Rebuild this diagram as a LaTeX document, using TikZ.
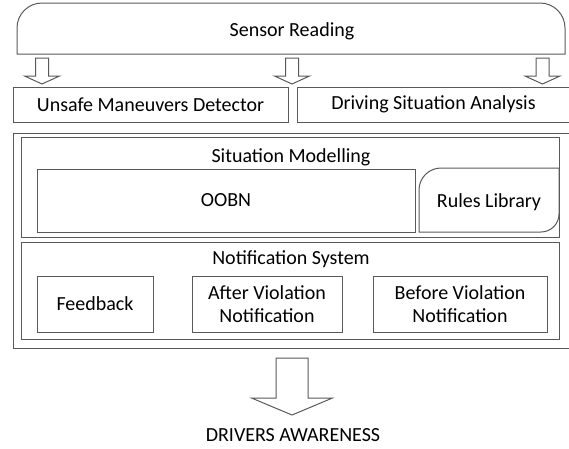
\documentclass[tikz,border=0pt]{standalone}
\usepackage{fontspec}
\setmainfont{Carlito}
\usetikzlibrary{positioning}

\tikzset{
  line/.style={draw=black!65, line width=1pt},
  box/.style={line, rectangle, inner sep=0pt, align=center},
  label/.style={inner sep=0pt, align=center},
}
\newcommand{\hollowarrow}[5]{%
  \draw[line] (#1) ++(-#2,0) -- ++(0,#3) -- ++(#2-#4,0) -- ++(#4,#5)
    -- ++(#4,-#5) -- ++(#2-#4,0) -- ++(0,-#3) -- cycle;}

\begin{document}
\begin{tikzpicture}[x=1pt,y=-1pt,font=\fontsize{20}{23}\selectfont,text=black]
\useasboundingbox (0,0) rectangle (569,448);

% sensor reading, round top corners
\draw[line] (17,54) -- (17,28) arc[start angle=180,end angle=270,radius=25]
  -- (540,3) arc[start angle=270,end angle=360,radius=25] -- (565,54) -- cycle;
\node[label] (sensor) at (292,31) {Sensor Reading};

\node[box, minimum width=275pt, minimum height=35pt] (unsafe) at (150.5,104.5) {Unsafe Maneuvers Detector};
\node[box, minimum width=273pt, minimum height=35pt] (driving) at (433.5,104.5) {Driving Situation Analysis};

\coordinate (s1) at (42,58);
\coordinate (s2) at (292,58);
\coordinate (s3) at (542.5,58);
\hollowarrow{s1}{6.5}{18}{17.5}{8}
\hollowarrow{s2}{6.5}{18}{17.5}{8}
\hollowarrow{s3}{6.5}{18}{17.5}{8}

% outer frame
\node[box, minimum width=557pt, minimum height=215pt] (frame) at (291.5,240.5) {};

% situation modelling
\node[box, minimum width=538pt, minimum height=100pt] (sitmod) at (290,187) {};
\node[label] (sitlabel) at (291,157) {Situation Modelling};
\node[box, minimum width=378pt, minimum height=63pt] (oobn) at (226,200.5) {OOBN};
\draw[line] (419,232) -- (419,190) arc[start angle=180,end angle=270,radius=22]
  -- (559,168) -- (559,214) arc[start angle=0,end angle=90,radius=18] -- cycle;
\node[label] (rules) at (489,202) {Rules Library};

% notification system
\node[box, minimum width=538pt, minimum height=97pt] (notif) at (290,290.5) {};
\node[label] (notlabel) at (291,259) {Notification System};
\node[box, minimum width=116pt, minimum height=56pt] (feedback) at (95,304) {Feedback};
\node[box, minimum width=150pt, minimum height=56pt] (after) at (267,304) {After Violation\\Notification};
\node[box, minimum width=174pt, minimum height=56pt] (before) at (460,304) {Before Violation\\Notification};

% output
\coordinate (out) at (292,358);
\hollowarrow{out}{16}{40}{40.5}{17}
\node[label] (aware) at (293,435) {DRIVERS AWARENESS};

\end{tikzpicture}
\end{document}
